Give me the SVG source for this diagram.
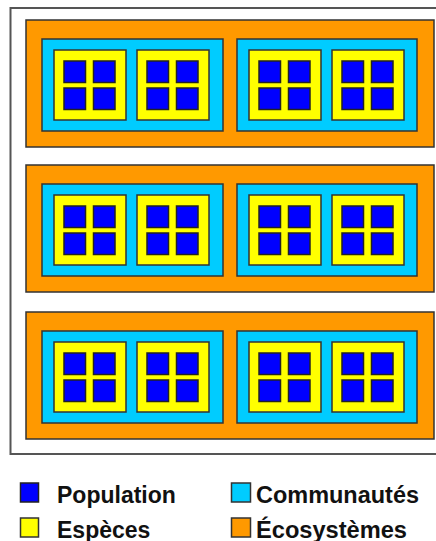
<svg xmlns="http://www.w3.org/2000/svg" width="436" height="541" viewBox="0 0 436 541">
<style>
.frame{fill:#fff;stroke:#555;stroke-width:2}
.eco{fill:#FF9900;stroke:#333;stroke-width:1.5}
.com{fill:#00CCFF;stroke:#333;stroke-width:1.5}
.esp{fill:#FFFF00;stroke:#333;stroke-width:1.5}
.pop{fill:#0000FF;stroke:#222;stroke-width:1.5}
.lbl{font-family:"Liberation Sans",Arial,sans-serif;font-weight:bold;font-size:23px;fill:#111}
</style>
<defs>
<g id="especeTpl">
<rect class="esp" x="0" y="0" width="72" height="70"/>
<rect class="pop" x="10" y="11" width="21.5" height="21.5"/>
<rect class="pop" x="39.5" y="11" width="21.5" height="21.5"/>
<rect class="pop" x="10" y="38" width="21.5" height="21.5"/>
<rect class="pop" x="39.5" y="38" width="21.5" height="21.5"/>
</g>
<g id="ecoTpl">
<rect class="eco" x="26" y="0" width="408" height="127"/>
<rect class="com" x="42" y="19" width="181" height="92"/>
<rect class="com" x="237" y="19" width="180" height="92"/>
<use href="#especeTpl" x="54" y="30"/>
<use href="#especeTpl" x="137" y="30"/>
<use href="#especeTpl" x="249" y="30"/>
<use href="#especeTpl" x="332" y="30"/>
</g>
</defs>
<rect id="frame" class="frame" x="10.5" y="8" width="430" height="446"/>
<g id="ecosysteme1" transform="translate(0,20)"><use href="#ecoTpl"/></g>
<g id="ecosysteme2" transform="translate(0,165)"><use href="#ecoTpl"/></g>
<g id="ecosysteme3" transform="translate(0,312)"><use href="#ecoTpl"/></g>
<g id="connectors"/>
<g id="legend">
<g id="leg-pop"><rect class="pop" x="20.5" y="483" width="18" height="19"/><text class="lbl" x="57" y="503">Population</text></g>
<g id="leg-esp"><rect class="esp" x="20.5" y="518" width="18" height="19"/><text class="lbl" x="57" y="537.5">Espèces</text></g>
<g id="leg-com"><rect class="com" x="231.5" y="483" width="19" height="19"/><text class="lbl" x="256" y="502.5" textLength="163" lengthAdjust="spacingAndGlyphs">Communautés</text></g>
<g id="leg-eco"><rect class="eco" x="231.5" y="518" width="19" height="19"/><text class="lbl" x="256" y="537.5" textLength="151" lengthAdjust="spacingAndGlyphs">Écosystèmes</text></g>
</g>
</svg>
